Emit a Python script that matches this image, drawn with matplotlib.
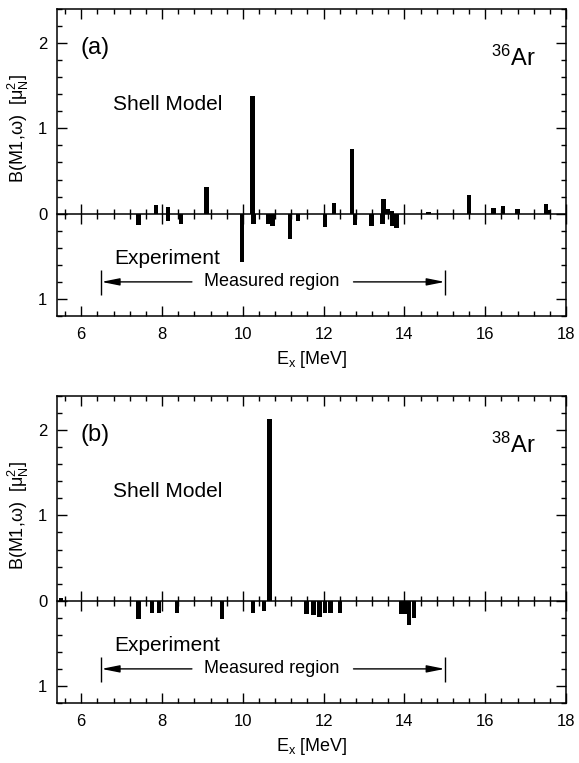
import matplotlib
matplotlib.use("Agg")
import matplotlib.pyplot as plt
from matplotlib.ticker import MultipleLocator, FuncFormatter

plt.rcParams['font.family'] = ['Liberation Sans', 'DejaVu Sans']
plt.rcParams['mathtext.fontset'] = 'custom'
plt.rcParams['mathtext.rm'] = 'Liberation Sans'
plt.rcParams['mathtext.it'] = 'Liberation Sans:italic'
plt.rcParams['mathtext.bf'] = 'Liberation Sans:bold'

# 36Ar: shell model strengths (up) and experiment (down), in mu_N^2
sm36_E = [7.85, 8.15, 9.10, 10.24, 12.26, 12.70, 13.48, 13.60, 13.68, 14.60,
          15.60, 16.20, 16.44, 16.80, 17.50, 17.58]
sm36_B = [0.10, 0.08, 0.31, 1.38, 0.12, 0.76, 0.17, 0.05, 0.03, 0.02,
          0.22, 0.07, 0.09, 0.05, 0.11, 0.04]
ex36_E = [7.42, 8.15, 8.47, 9.98, 10.26, 10.62, 10.74, 11.17, 11.36, 12.04,
          12.78, 13.18, 13.46, 13.71, 13.80]
ex36_B = [0.13, 0.09, 0.12, 0.57, 0.12, 0.12, 0.14, 0.30, 0.09, 0.16,
          0.13, 0.14, 0.12, 0.14, 0.17]

# 38Ar
sm38_E = [5.50, 10.66]
sm38_B = [0.03, 2.13]
ex38_E = [7.42, 7.75, 7.92, 8.37, 9.48, 10.25, 10.53, 11.58, 11.75, 11.90,
          12.03, 12.17, 12.41, 13.93, 14.02, 14.12, 14.24]
ex38_B = [0.21, 0.14, 0.14, 0.14, 0.21, 0.14, 0.12, 0.16, 0.17, 0.19,
          0.15, 0.15, 0.15, 0.16, 0.16, 0.28, 0.20]

measured = (6.5, 15.0)


def maakPaneel(ax, smE, smB, exE, exB, label, kern):
    ax.bar(smE, smB, width=0.11, color='black', zorder=3)
    ax.bar(exE, [-b for b in exB], width=0.11, color='black', zorder=3)

    ax.set_xlim(5.4, 18)
    ax.set_ylim(-1.2, 2.4)
    ax.xaxis.set_major_locator(MultipleLocator(2))
    ax.xaxis.set_minor_locator(MultipleLocator(0.4))
    ax.yaxis.set_major_locator(MultipleLocator(1))
    ax.yaxis.set_minor_locator(MultipleLocator(0.2))
    ax.yaxis.set_major_formatter(FuncFormatter(lambda v, p: '%g' % abs(v)))
    ax.tick_params(which='both', direction='in', top=True, right=True,
                   width=1, labelsize=12)
    ax.tick_params(which='major', length=7)
    ax.tick_params(which='minor', length=3.5)
    ax.tick_params(axis='x', pad=8)
    ax.tick_params(axis='y', pad=7)
    for s in ax.spines.values():
        s.set_linewidth(1.1)

    # zero line with its own ticks
    nul = ax.secondary_xaxis(1.2 / 3.6)
    nul.xaxis.set_major_locator(MultipleLocator(2))
    nul.xaxis.set_minor_locator(MultipleLocator(0.4))
    nul.tick_params(which='both', direction='inout', width=1,
                    labelbottom=False, labeltop=False)
    nul.tick_params(which='major', length=14)
    nul.tick_params(which='minor', length=6.5)
    for s in nul.spines.values():
        s.set_linewidth(1.1)

    ax.text(5.99, 1.94, label, fontsize=17, ha='left', va='center')
    ax.text(6.78, 1.28, 'Shell Model', fontsize=15, ha='left', va='center')
    ax.text(6.82, -0.53, 'Experiment', fontsize=15, ha='left', va='center')
    ax.text(16.15, 1.82, kern, fontsize=17, ha='left', va='center')

    # measured region with arrows
    ax.text(10.72, -0.8, 'Measured region', fontsize=13, ha='center', va='center')
    pijl = dict(arrowstyle='-|>,head_length=0.9,head_width=0.18', color='black',
                lw=1, shrinkA=0, shrinkB=0, mutation_scale=12)
    ax.annotate('', xy=(measured[0], -0.8), xytext=(8.74, -0.8), arrowprops=pijl)
    ax.annotate('', xy=(measured[1], -0.8), xytext=(12.74, -0.8), arrowprops=pijl)
    ax.vlines(measured, -0.95, -0.66, color='black', lw=1)

    ax.set_xlabel(r'E$_{\rm x}$ [MeV]', fontsize=13, labelpad=5)
    ax.text(-0.075, 0.612, 'B(M1,ω)  [μ$_{\\rm N}^{2}$]', fontsize=13,
            rotation=90, ha='center', va='center', transform=ax.transAxes)


fig = plt.figure(figsize=(5.79, 7.63), dpi=100)
axA = fig.add_axes([57 / 579, 1 - 316 / 763, 509 / 579, 307 / 763])
axB = fig.add_axes([57 / 579, 1 - 703 / 763, 509 / 579, 307 / 763])

maakPaneel(axA, sm36_E, sm36_B, ex36_E, ex36_B, '(a)', r'$^{36}$Ar')
maakPaneel(axB, sm38_E, sm38_B, ex38_E, ex38_B, '(b)', r'$^{38}$Ar')

fig.savefig('out.png', dpi=100)
